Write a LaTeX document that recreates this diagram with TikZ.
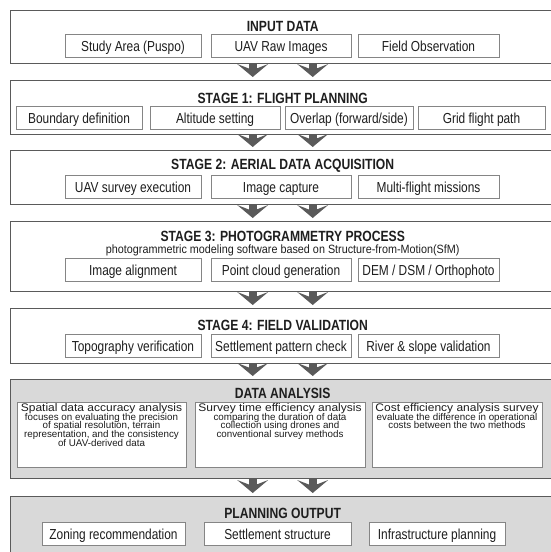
\documentclass[tikz,border=0pt]{standalone}
\usepackage{fontspec}
\setmainfont{Liberation Sans}[FakeStretch=0.82]
\newfontfamily\notefont{Liberation Sans}[FakeStretch=0.9]
\newfontfamily\headfont{Liberation Sans}[FakeStretch=1.09]
\newfontfamily\descfont{Liberation Sans}
\usepackage{tikz}
\usetikzlibrary{arrows.meta,positioning,calc}
\definecolor{bk90}{HTML}{1E1E1E}
\definecolor{bk70}{HTML}{5A5A5A}
\definecolor{bk50}{HTML}{858585}
\definecolor{panel}{HTML}{D9D9D9}
\tikzset{
  stagebox/.style={
    rectangle, draw=bk70, fill=#1, line width=1.4pt,
    anchor=north west, minimum width=544pt, inner sep=0pt
  },
  stagebox/.default=white,
  stagetitle/.style={
    font=\fontsize{14.8}{16}\selectfont\bfseries, text=bk90, inner sep=0pt
  },
  stagenote/.style={
    font=\notefont\fontsize{12}{14}\selectfont, text=bk90, inner sep=0pt
  },
  itembox/.style={
    rectangle, draw=bk50, fill=white, line width=0.8pt,
    minimum width=#1, minimum height=23pt, inner sep=0pt,
    text height=11.8pt, text depth=0.2pt,
    font=\fontsize{14.5}{16}\selectfont, text=bk90
  },
  itembox/.default=138pt,
  flowarrow/.style={
    draw=bk70, line width=8pt, shorten >=3pt,
    -{Stealth[length=13pt, width=31pt, inset=6pt, line width=0pt]}
  },
}
% longer text of the analysis boxes
\newcommand{\anatext}[2]{%
  \parbox[c][62pt][t]{166pt}{\centering\lineskiplimit=-20pt
    {\headfont\fontsize{11}{8.7}\selectfont #1}\\
    \descfont\fontsize{9.8}{8.7}\selectfont #2}}

\begin{document}
\begin{tikzpicture}[x=1pt, y=-1pt]
    \useasboundingbox (0,0) rectangle (551,552);

    % INPUT DATA
    \node[stagebox, minimum height=53pt] (inp) at (10,10) {};
    \node[stagetitle] (inptitle) at ([yshift=-16pt]inp.north) {INPUT DATA};
    \node[itembox=136pt] (in1) at (133,45.5) {Study Area (Puspo)};
    \node[itembox=140pt] (in2) at (281,45.5) {UAV Raw Images};
    \node[itembox=141pt] (in3) at (428.5,45.5) {Field Observation};

    % STAGE 1
    \node[stagebox, minimum height=54pt] (st1) at (10,80) {};
    \node[stagetitle] (st1title) at ([yshift=-18pt]st1.north) {STAGE 1: FLIGHT PLANNING};
    \node[itembox=126pt] (fp1) at (79,118) {Boundary definition};
    \node[itembox=130pt] (fp2) at (215,118) {Altitude setting};
    \node[itembox=128pt] (fp3) at (349,118) {Overlap (forward/side)};
    \node[itembox=127pt] (fp4) at (481.5,118) {Grid flight path};

    % STAGE 2
    \node[stagebox, minimum height=54pt] (st2) at (10,150) {};
    \node[stagetitle] (st2title) at ([yshift=-16pt]st2.north) {STAGE 2: AERIAL DATA ACQUISITION};
    \node[itembox=136pt] (aq1) at (133,186.5) {UAV survey execution};
    \node[itembox=140pt] (aq2) at (281,186.5) {Image capture};
    \node[itembox=141pt] (aq3) at (428.5,186.5) {Multi-flight missions};

    % STAGE 3
    \node[stagebox, minimum height=70pt] (st3) at (10,221) {};
    \node[stagetitle] (st3title) at ([yshift=-15pt]st3.north) {STAGE 3: PHOTOGRAMMETRY PROCESS};
    \node[stagenote, anchor=base] (st3note) at ([yshift=-32pt]st3.north)
        {photogrammetric modeling software based on Structure-from-Motion(SfM)};
    \node[itembox=136pt] (ph1) at (133,269.5) {Image alignment};
    \node[itembox=140pt] (ph2) at (281,269.5) {Point cloud generation};
    \node[itembox=141pt] (ph3) at (428.5,269.5) {DEM / DSM / Orthophoto};

    % STAGE 4
    \node[stagebox, minimum height=55pt] (st4) at (10,308) {};
    \node[stagetitle] (st4title) at ([yshift=-17pt]st4.north) {STAGE 4: FIELD VALIDATION};
    \node[itembox=136pt] (fv1) at (133,345.5) {Topography verification};
    \node[itembox=140pt] (fv2) at (281,345.5) {Settlement pattern check};
    \node[itembox=141pt] (fv3) at (428.5,345.5) {River \& slope validation};

    % DATA ANALYSIS
    \node[stagebox=panel, minimum height=99pt] (ana) at (10,379) {};
    \node[stagetitle] (anatitle) at ([yshift=-14pt]ana.north) {DATA ANALYSIS};
    \node[itembox=169pt, minimum height=65pt, text height=, text depth=] (da1) at (101.5,434.5)
        {\anatext{Spatial data accuracy analysis}{focuses on evaluating the precision\\
         of spatial resolution, terrain\\ representation, and the consistency\\
         of UAV-derived data}};
    \node[itembox=170pt, minimum height=65pt, text height=, text depth=] (da2) at (280,434.5)
        {\anatext{Survey time efficiency analysis}{comparing the duration of data\\
         collection using drones and\\ conventional survey methods}};
    \node[itembox=170pt, minimum height=65pt, text height=, text depth=] (da3) at (457,434.5)
        {\anatext{Cost efficiency analysis survey}{evaluate the difference in operational\\
         costs between the two methods}};

    % PLANNING OUTPUT
    \node[stagebox=panel, minimum height=75pt] (out) at (10,496) {};
    \node[stagetitle] (outtitle) at ([yshift=-17pt]out.north) {PLANNING OUTPUT};
    \node[itembox=143pt] (po1) at (113.5,534) {Zoning recommendation};
    \node[itembox=147pt] (po2) at (277.5,534) {Settlement structure};
    \node[itembox=136pt] (po3) at (437,534) {Infrastructure planning};

    % arrows between the stages
    \foreach \a/\b in {inp/st1, st1/st2, st2/st3, st3/st4, st4/ana, ana/out} {
        \draw[flowarrow] ([xshift=-30pt]\a.south) -- ([xshift=-30pt]\b.north);
        \draw[flowarrow] ([xshift=30pt]\a.south) -- ([xshift=30pt]\b.north);
    }
\end{tikzpicture}
\end{document}
